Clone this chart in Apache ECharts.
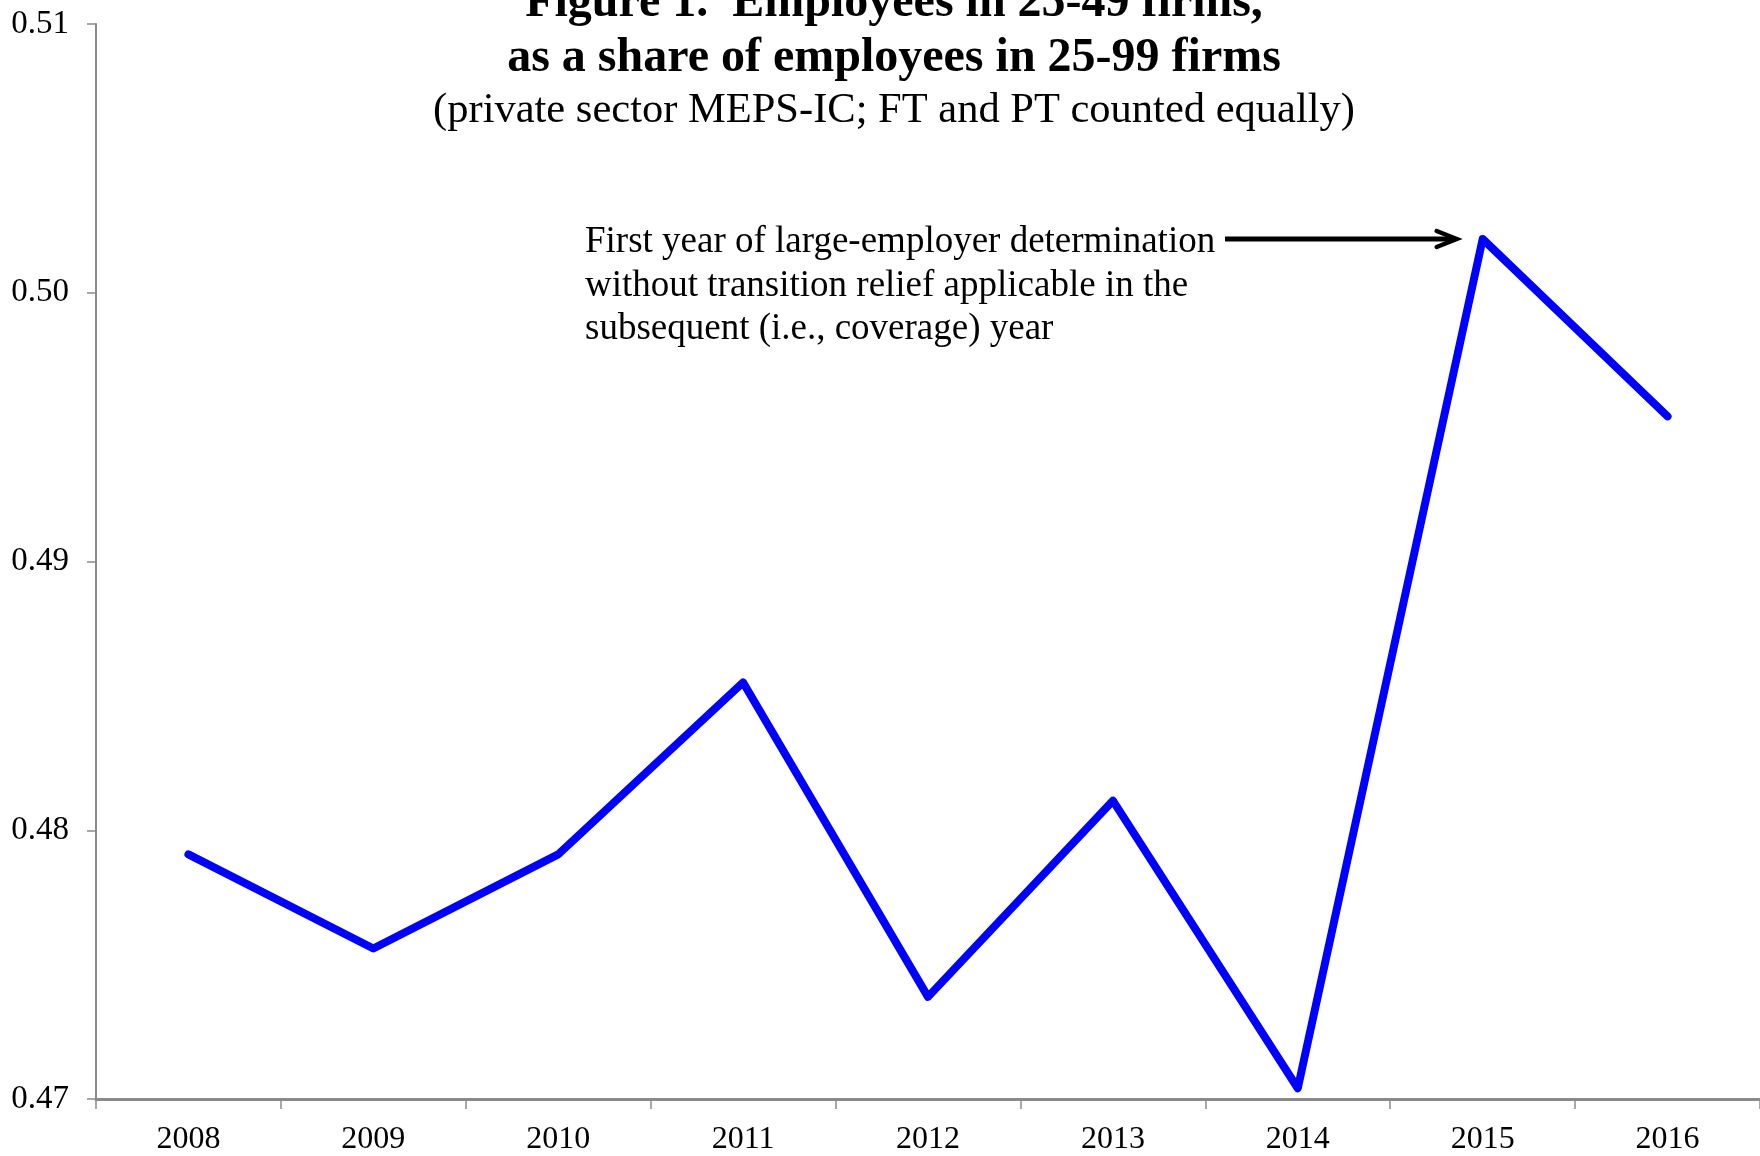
<!DOCTYPE html>
<html>
<head>
<meta charset="utf-8">
<script src="https://cdn.jsdelivr.net/npm/echarts@6/dist/echarts.min.js"></script>
<style>
html,body{margin:0;padding:0;background:#fff;}
#chart{width:1760px;height:1156px;}
</style>
</head>
<body>
<div id="chart"></div>
<script>
const years = ['2008','2009','2010','2011','2012','2013','2014','2015','2016'];
const shares = [0.4791, 0.4756, 0.4791, 0.4855, 0.4738, 0.4811, 0.4704, 0.5020, 0.4954];
const yTicks = [0.47, 0.48, 0.49, 0.50, 0.51];
const titleLines = ['Figure 1.  Employees in 25-49 firms,', 'as a share of employees in 25-99 firms'];
const subtitle = '(private sector MEPS-IC; FT and PT counted equally)';
const noteLines = ['First year of large-employer determination', 'without transition relief applicable in the', 'subsequent (i.e., coverage) year'];
const noteYear = '2015';

const FONT = '"Liberation Serif", "Times New Roman", serif';
const chart = echarts.init(document.getElementById('chart'));
const option = {
  backgroundColor: '#ffffff',
  animation: false,
  grid: {left: 96, right: 0, top: 24, bottom: 56, containLabel: false},
  xAxis: {
    type: 'category',
    data: years,
    boundaryGap: true,
    axisLine: {lineStyle: {color: '#8a8a8a', width: 3}},
    axisTick: {show: true, length: 10, interval: 0, lineStyle: {color: '#8a8a8a', width: 1.5}},
    axisLabel: {margin: 25, fontFamily: FONT, fontSize: 32, color: '#000', interval: 0},
    splitLine: {show: false}
  },
  yAxis: {
    type: 'value',
    min: yTicks[0],
    max: yTicks[yTicks.length - 1],
    interval: 0.01,
    axisLine: {show: true, lineStyle: {color: '#8a8a8a', width: 2}},
    axisTick: {show: true, length: 9, lineStyle: {color: '#8a8a8a', width: 1.5}},
    axisLabel: {margin: 27, fontFamily: FONT, fontSize: 33, color: '#000', formatter: v => v.toFixed(2)},
    splitLine: {show: false}
  },
  series: [{
    type: 'line',
    data: shares,
    symbol: 'none',
    lineStyle: {color: '#0000ff', width: 8, cap: 'round', join: 'round'},
    z: 3
  }]
};
chart.setOption(option);

const peak = chart.convertToPixel({xAxisIndex: 0, yAxisIndex: 0}, [noteYear, shares[years.indexOf(noteYear)]]);
const tipX = peak[0] - 26, tipY = peak[1];
chart.setOption({
  graphic: [
    {type: 'text', x: 894, y: 4, style: {text: titleLines[0], font: 'bold 48px ' + FONT, fill: '#000', textAlign: 'center', textVerticalAlign: 'middle'}},
    {type: 'text', x: 894, y: 59, style: {text: titleLines[1], font: 'bold 48px ' + FONT, fill: '#000', textAlign: 'center', textVerticalAlign: 'middle'}},
    {type: 'text', x: 894, y: 111, style: {text: subtitle, font: '42.5px ' + FONT, fill: '#000', textAlign: 'center', textVerticalAlign: 'middle'}},
    {type: 'text', x: 585, y: 221, style: {text: noteLines.join('\n'), font: '37px ' + FONT, fill: '#000', lineHeight: 43.5, textAlign: 'left', textVerticalAlign: 'top'}},
    {type: 'line', shape: {x1: 1225, y1: tipY, x2: tipX - 3, y2: tipY}, style: {stroke: '#000', lineWidth: 5}},
    {type: 'polyline', shape: {points: [[tipX - 20, tipY - 8], [tipX, tipY], [tipX - 20, tipY + 8]]}, style: {stroke: '#000', lineWidth: 4.5, fill: null, lineCap: 'round', lineJoin: 'miter'}}
  ]
});
</script>
</body>
</html>
